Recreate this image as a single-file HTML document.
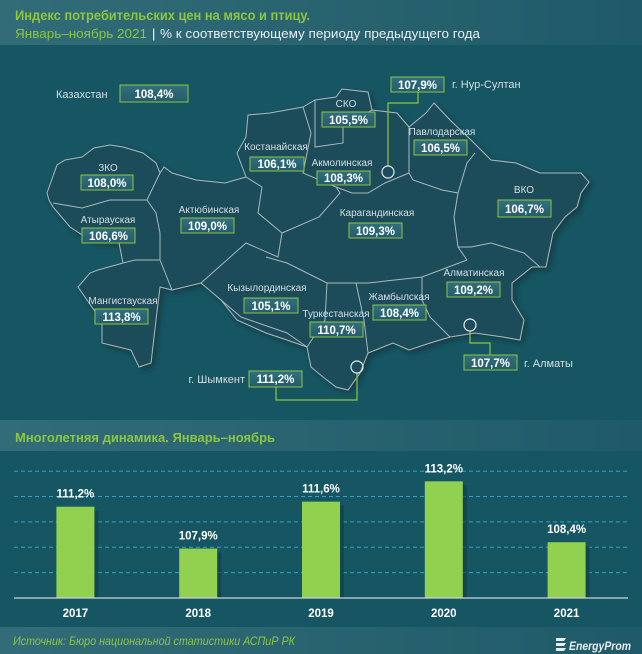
<!DOCTYPE html>
<html><head><meta charset="utf-8"><style>
html,body{margin:0;padding:0;background:#165663;}
svg{display:block;font-family:"Liberation Sans",sans-serif;}
</style></head><body>
<svg width="642" height="654" viewBox="0 0 642 654">
<defs>
<linearGradient id="hdr" x1="0" x2="1"><stop offset="0" stop-color="#326c78"/><stop offset="1" stop-color="#1f5a68"/></linearGradient>
<linearGradient id="box" x1="0" x2="0" y1="0" y2="1"><stop offset="0" stop-color="#326f7d"/><stop offset="1" stop-color="#245c6a"/></linearGradient>
<filter id="sh" x="-10%" y="-10%" width="130%" height="130%"><feDropShadow dx="3" dy="3" stdDeviation="3" flood-color="#0a2a33" flood-opacity="0.6"/></filter>
</defs>
<rect x="0" y="0" width="642" height="654" fill="#165663"/>
<rect x="0" y="0" width="642" height="45" fill="url(#hdr)"/>
<text x="15" y="20" font-size="13.5" font-weight="bold" fill="#8dc63f" textLength="295" lengthAdjust="spacingAndGlyphs">Индекс потребительских цен на мясо и птицу.</text>
<text x="15" y="38" font-size="13" fill="#8dc63f" textLength="132" lengthAdjust="spacingAndGlyphs">Январь–ноябрь 2021</text>
<text x="152" y="38" font-size="13" fill="#ffffff">|</text>
<text x="160" y="38" font-size="13" fill="#e8eef0" textLength="320" lengthAdjust="spacingAndGlyphs">% к соответствующему периоду предыдущего года</text>

<g filter="url(#sh)">
<polygon fill="#1f4c5a" stroke="#aab8bd" stroke-width="1" points="47,193 57,165 65,160 82,157 94,148 110,145 123,147 143,153 156,163 160,173 164,167 172,173 196,180 225,183 246,177 237,153 246,137 248,115 270,113 303,107 315,100 336,97 342,89 368,92 372,110 397,113 409,127 426,113 434,103 450,120 471,140 491,160 516,163 540,173 581,173 589,182 581,193 577,207 565,217 553,233 546,267 532,267 512,283 512,300 524,320 520,340 503,337 475,333 450,337 430,343 409,350 393,343 368,353 360,373 348,390 336,387 323,377 311,367 307,347 287,340 266,333 237,320 221,300 201,283 172,290 160,287 156,320 151,363 139,367 131,350 102,343 102,320 94,310 78,287 90,273 98,270 123,263 119,243 90,240 70,227 53,207 49,200"/>
</g>
<g fill="none" stroke="#aab8bd" stroke-width="1">
<polyline points="53,203 82,208 110,200 147,200 160,173"/>
<polyline points="123,263 135,260 160,260 172,290"/>
<polyline points="147,200 156,213 160,233 160,260"/>
<polyline points="246,177 262,187 258,213 282,233"/>
<polyline points="282,233 278,257 246,243 201,283"/>
<polyline points="266,257 287,263 327,283 368,283 422,277 467,260"/>
<polyline points="303,107 311,133 303,173 336,187 340,193 319,217 282,233"/>
<polyline points="315,100 315,147 343,143 343,127 372,110"/>
<polyline points="336,187 352,193 368,193 385,183 409,173"/>
<polyline points="409,127 409,173 413,180 442,190 458,193"/>
<polyline points="475,153 467,163 458,193 454,217 458,247"/>
<polyline points="458,247 471,247 491,243 524,253 540,267"/>
<polyline points="458,247 467,260"/>
<polyline points="327,283 325,320 307,347"/>
<polyline points="356,283 364,320 368,353"/>
<polyline points="422,277 422,300 430,317 450,337"/>
<polyline points="221,300 241,317 287,333 307,347"/>
</g>

<g font-size="10" fill="#d5dfe2">
<text x="346" y="107" text-anchor="middle">СКО</text>
<text x="442" y="135" text-anchor="middle">Павлодарская</text>
<text x="276" y="150" text-anchor="middle">Костанайская</text>
<text x="342" y="166" text-anchor="middle">Акмолинская</text>
<text x="108" y="171" text-anchor="middle">ЗКО</text>
<text x="524" y="193" text-anchor="middle">ВКО</text>
<text x="209" y="213" text-anchor="middle">Актюбинская</text>
<text x="377" y="216" text-anchor="middle">Карагандинская</text>
<text x="108" y="223" text-anchor="middle">Атырауская</text>
<text x="474" y="276" text-anchor="middle">Алматинская</text>
<text x="267" y="291" text-anchor="middle">Кызылординская</text>
<text x="123" y="304" text-anchor="middle">Мангистауская</text>
<text x="399" y="300" text-anchor="middle">Жамбылская</text>
<text x="336" y="317" text-anchor="middle">Туркестанская</text>
</g>
<g font-size="11" fill="#d5dfe2">
<text x="56" y="98">Казахстан</text>
<text x="452" y="88">г. Нур-Султан</text>
<text x="524" y="367">г. Алматы</text>
<text x="245" y="383" text-anchor="end">г. Шымкент</text>
</g>
<g fill="none" stroke="#8dc63f" stroke-width="1.2">
<polyline points="418,92 418,103 388,103 388,166"/>
<circle cx="388" cy="172" r="6" stroke="#e8eef0"/>
<polyline points="470,331 470,343 490,343 490,355"/>
<circle cx="470" cy="325" r="6" stroke="#e8eef0"/>
<polyline points="357,373 357,400 276,400 276,387"/>
<circle cx="357" cy="367" r="6" stroke="#e8eef0"/>
</g>
<g font-size="11.5" font-weight="bold" fill="#ffffff" text-anchor="middle">
<g><rect x="120" y="85" width="68" height="17" fill="url(#box)" stroke="#8dc63f"/><text x="154" y="98">108,4%</text></g>
<g><rect x="391" y="77" width="53" height="15" fill="url(#box)" stroke="#8dc63f"/><text x="417.5" y="89">107,9%</text></g>
<g><rect x="322" y="112" width="53" height="15" fill="url(#box)" stroke="#8dc63f"/><text x="348.5" y="124">105,5%</text></g>
<g><rect x="414" y="140" width="53" height="15" fill="url(#box)" stroke="#8dc63f"/><text x="440.5" y="152">106,5%</text></g>
<g><rect x="250" y="157" width="54" height="14" fill="url(#box)" stroke="#8dc63f"/><text x="277" y="168">106,1%</text></g>
<g><rect x="317" y="171" width="53" height="14" fill="url(#box)" stroke="#8dc63f"/><text x="343.5" y="182">108,3%</text></g>
<g><rect x="81" y="175" width="52" height="15" fill="url(#box)" stroke="#8dc63f"/><text x="107" y="187">108,0%</text></g>
<g><rect x="498" y="200" width="53" height="17" fill="url(#box)" stroke="#8dc63f"/><text x="524.5" y="213">106,7%</text></g>
<g><rect x="181" y="218" width="53" height="15" fill="url(#box)" stroke="#8dc63f"/><text x="207.5" y="230">109,0%</text></g>
<g><rect x="349" y="223" width="53" height="15" fill="url(#box)" stroke="#8dc63f"/><text x="375.5" y="235">109,3%</text></g>
<g><rect x="82" y="228" width="53" height="15" fill="url(#box)" stroke="#8dc63f"/><text x="108.5" y="240">106,6%</text></g>
<g><rect x="447" y="282" width="53" height="15" fill="url(#box)" stroke="#8dc63f"/><text x="473.5" y="294">109,2%</text></g>
<g><rect x="244" y="298" width="54" height="15" fill="url(#box)" stroke="#8dc63f"/><text x="271" y="310">105,1%</text></g>
<g><rect x="95" y="309" width="53" height="15" fill="url(#box)" stroke="#8dc63f"/><text x="121.5" y="321">113,8%</text></g>
<g><rect x="373" y="305" width="53" height="15" fill="url(#box)" stroke="#8dc63f"/><text x="399.5" y="317">108,4%</text></g>
<g><rect x="310" y="322" width="53" height="15" fill="url(#box)" stroke="#8dc63f"/><text x="336.5" y="334">110,7%</text></g>
<g><rect x="464" y="355" width="53" height="15" fill="url(#box)" stroke="#8dc63f"/><text x="490.5" y="367">107,7%</text></g>
<g><rect x="249" y="371" width="53" height="16" fill="url(#box)" stroke="#8dc63f"/><text x="275.5" y="383">111,2%</text></g>
</g>

<rect x="0" y="420" width="642" height="31" fill="url(#hdr)"/>
<text x="15" y="442" font-size="13" font-weight="bold" fill="#8dc63f" textLength="260" lengthAdjust="spacingAndGlyphs">Многолетняя динамика. Январь–ноябрь</text>
<g id="chart"></g>

<rect x="0" y="627" width="642" height="27" fill="url(#hdr)"/>
<text x="13" y="645" font-size="11.5" font-style="italic" fill="#8dc63f" textLength="282" lengthAdjust="spacingAndGlyphs">Источник: Бюро национальной статистики АСПиР РК</text>
<g>
<path d="M556,638 h10 l-2,3 h-8z M556,643 h10 l-2,3 h-8z M556,648 h10 l-2,3 h-8z" fill="#e8eef0"/>
<text x="569" y="650" font-size="12" font-weight="bold" font-style="italic" fill="#e8eef0" textLength="62" lengthAdjust="spacingAndGlyphs">EnergyProm</text>
</g>

<script>
var years = ["2017","2018","2019","2020","2021"];
var values = [111.2, 107.9, 111.6, 113.2, 108.4];
var valueLabels = ["111,2%","107,9%","111,6%","113,2%","108,4%"];
var gridTicks = [106, 108, 110, 112, 114];
(function(){
  var NS = "http://www.w3.org/2000/svg";
  var g = document.getElementById("chart");
  var x0 = 14, x1 = 628, yBase = 598, vMin = 104, pxPer = 12.68, barW = 38;
  var band = (x1 - x0) / years.length;
  function xc(i){ return x0 + band * (i + 0.5); }
  function y(v){ return yBase - (v - vMin) * pxPer; }
  function mk(tag, attrs){ var e = document.createElementNS(NS, tag); for (var k in attrs) e.setAttribute(k, attrs[k]); g.appendChild(e); return e; }
  gridTicks.forEach(function(t){
    var l = mk("line", {x1:x0, x2:x1, y1:y(t), y2:y(t), stroke:"#2fa3c4", "stroke-width":1, "stroke-dasharray":"4,3"});
    
    
  });
  values.forEach(function(v, i){
    var s = mk("rect", {x:xc(i)-barW/2+4, y:y(v)+4, width:barW, height:yBase-y(v)-4, fill:"#0e3d48", opacity:0.6});
    
    
    var r = mk("rect", {x:xc(i)-barW/2, y:y(v), width:barW, height:yBase-y(v), fill:"#92d050"});
    
    
    var t = mk("text", {x:xc(i), y:y(v)-9, "text-anchor":"middle", "font-size":"11.5", "font-weight":"bold", fill:"#ffffff"});
    t.textContent = valueLabels[i];
    
    
    var c = mk("text", {x:xc(i), y:617, "text-anchor":"middle", "font-size":"11.5", "font-weight":"bold", fill:"#ffffff"});
    c.textContent = years[i];
    
    
  });
  var b = mk("line", {x1:x0, x2:x1, y1:yBase, y2:yBase, stroke:"#c8d3d6", "stroke-width":1.2});
  
  
})();
</script>
</svg>
</body></html>
